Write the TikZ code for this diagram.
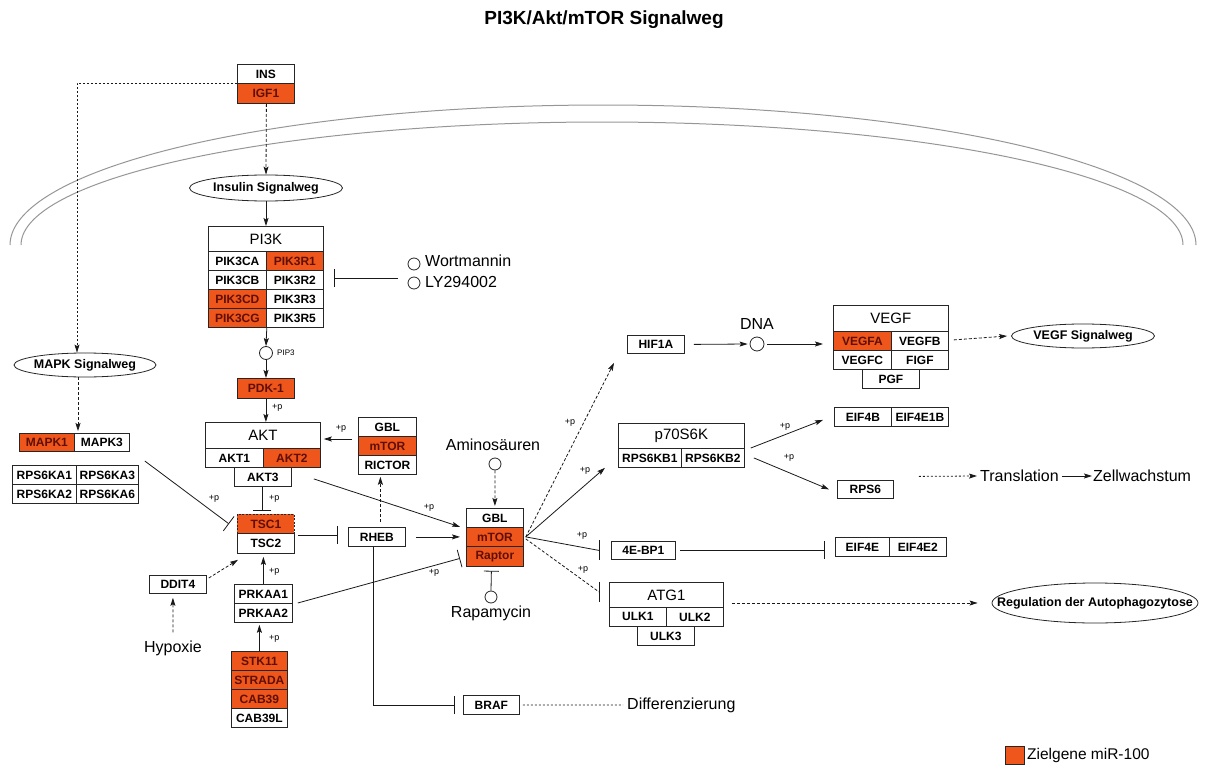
\documentclass[tikz,border=0pt]{standalone}
\usepackage{fontspec}
\setmainfont{Liberation Sans}
\usetikzlibrary{arrows.meta,shapes.geometric,calc}
\definecolor{miror}{RGB}{238,86,28}
\definecolor{mirtx}{RGB}{95,15,5}
\definecolor{memb}{RGB}{150,150,150}
\begin{document}
\begin{tikzpicture}[x=1pt,y=-1pt,
  cell/.style={draw=black!85, line width=0.8pt, fill=white, rectangle, inner sep=0pt, anchor=north west, font=\fontsize{12}{12}\selectfont\bfseries, minimum height=19pt},
  hit/.style={fill=miror, text=mirtx},
  head/.style={cell, font=\fontsize{15}{15}\selectfont},
  pathway/.style={draw=black!85, line width=0.8pt, ellipse, fill=white, inner sep=0pt, font=\fontsize{12.5}{12.5}\selectfont\bfseries},
  lbl/.style={inner sep=0pt, font=\fontsize{16}{16}\selectfont},
  plab/.style={inner sep=0pt, font=\fontsize{9}{9}\selectfont},
  mol/.style={circle, draw=black!85, line width=0.8pt, fill=white, minimum size=13pt, inner sep=0pt},
  con/.style={draw=black!90, line width=0.8pt},
  arr/.style={con, -{Stealth[length=8pt,width=5pt,inset=1.5pt]}},
  dashln/.style={dash pattern=on 3pt off 2pt},
  darr/.style={arr, dashln},
  dotarr/.style={arr, dash pattern=on 2pt off 2pt},
  inh/.style={con, -{Bar[width=18pt]}},
  membrane/.style={draw=memb, line width=1pt}
]
\useasboundingbox (0,0) rectangle (1205,765);
% membrane
\draw[membrane] plot[domain=0:180, samples=150] ({603+593*cos(\x)},{245-140*sin(\x)});
\draw[membrane] plot[domain=0:180, samples=150] ({602+581*cos(\x)},{245-123*sin(\x)});

\node[font=\fontsize{19}{19}\selectfont\bfseries] (title) at (604,20) {PI3K/Akt/mTOR Signalweg};

% INS / IGF1
\node[cell, minimum width=57pt] (ins) at (237,64) {INS};
\node[cell, hit, minimum width=57pt, minimum height=20pt] (igf1) at (237,83) {IGF1};
\node[pathway, minimum width=153pt, minimum height=26pt] (inssig) at (266,188) {\makebox[0pt]{Insulin Signalweg}};

% PI3K
\node[head, minimum width=115pt, minimum height=25pt] (pi3k) at (208,226) {PI3K};
\node[cell, minimum width=58pt] (pik3ca) at (208,251) {PIK3CA};
\node[cell, hit, minimum width=57pt] (pik3r1) at (266,251) {PIK3R1};
\node[cell, minimum width=58pt] (pik3cb) at (208,270) {PIK3CB};
\node[cell, minimum width=57pt] (pik3r2) at (266,270) {PIK3R2};
\node[cell, hit, minimum width=58pt] (pik3cd) at (208,289) {PIK3CD};
\node[cell, minimum width=57pt] (pik3r3) at (266,289) {PIK3R3};
\node[cell, hit, minimum width=58pt] (pik3cg) at (208,308) {PIK3CG};
\node[cell, minimum width=57pt] (pik3r5) at (266,308) {PIK3R5};

\node[mol, minimum size=12pt] (wort) at (414,264) {};
\node[lbl, anchor=west] (worttx) at (425,261) {Wortmannin};
\node[mol, minimum size=12pt] (ly) at (414,283) {};
\node[lbl, anchor=west] (lytx) at (425,282) {LY294002};

\node[mol] (pip3) at (266,353) {};
\node[plab, anchor=west, font=\fontsize{8}{8}\selectfont] (pip3tx) at (277,353) {PIP3};
\node[cell, hit, minimum width=57pt, minimum height=20pt] (pdk1) at (237,378) {PDK-1};

% AKT
\node[head, minimum width=115pt, minimum height=26pt] (akth) at (205,422) {AKT};
\node[cell, minimum width=58pt] (akt1) at (205,448) {AKT1};
\node[cell, hit, minimum width=57pt] (akt2) at (263,448) {AKT2};
\node[cell, minimum width=57pt] (akt3) at (234,467) {AKT3};

% mTORC2
\node[cell, minimum width=58pt] (gbl2) at (358,417) {GBL};
\node[cell, hit, minimum width=58pt] (mtor2) at (358,436) {mTOR};
\node[cell, minimum width=58pt] (rictor) at (358,455) {RICTOR};

\node[cell, minimum width=57pt] (rheb) at (348,527) {RHEB};

% TSC
\node[cell, hit, minimum width=57pt, dash pattern=on 2pt off 1.5pt] (tsc1) at (237,514) {TSC1};
\node[cell, minimum width=57pt, minimum height=20pt] (tsc2) at (237,533) {TSC2};

% mTORC1
\node[cell, minimum width=57pt] (gbl1) at (466,508) {GBL};
\node[cell, hit, minimum width=57pt] (mtor1) at (466,527) {mTOR};
\node[cell, hit, minimum width=57pt, minimum height=20pt] (raptor) at (466,546) {Raptor};

\node[lbl] (amino) at (493,445) {Aminosäuren};
\node[mol, minimum size=12pt] (aminoc) at (495,464) {};
\node[mol, minimum size=12pt] (rapac) at (491,597) {};
\node[lbl] (rapa) at (491,613) {Rapamycin};

% PRKAA, STK11
\node[cell, minimum width=58pt] (prkaa1) at (234,584) {PRKAA1};
\node[cell, minimum width=58pt] (prkaa2) at (234,603) {PRKAA2};
\node[cell, hit, minimum width=56pt] (stk11) at (231,651) {STK11};
\node[cell, hit, minimum width=56pt] (strada) at (231,670) {STRADA};
\node[cell, hit, minimum width=56pt] (cab39) at (231,689) {CAB39};
\node[cell, minimum width=56pt] (cab39l) at (231,708) {CAB39L};

\node[cell, minimum width=57pt, minimum height=18pt] (ddit4) at (149,575) {DDIT4};
\node[lbl] (hypox) at (173,648) {Hypoxie};

% MAPK
\node[pathway, minimum width=142pt, minimum height=24pt] (mapksig) at (85,365) {\makebox[0pt]{MAPK Signalweg}};
\node[cell, hit, minimum width=55pt, minimum height=18pt] (mapk1) at (19,433) {MAPK1};
\node[cell, minimum width=55pt, minimum height=18pt] (mapk3) at (74,433) {MAPK3};
\node[cell, minimum width=64pt] (rps6ka1) at (12,465) {RPS6KA1};
\node[cell, minimum width=62pt] (rps6ka3) at (76,465) {RPS6KA3};
\node[cell, minimum width=64pt] (rps6ka2) at (12,484) {RPS6KA2};
\node[cell, minimum width=62pt] (rps6ka6) at (76,484) {RPS6KA6};

% BRAF
\node[cell, minimum width=56pt] (braf) at (463,695) {BRAF};
\node[lbl, anchor=west] (diff) at (627,705) {Differenzierung};

% right side
\node[cell, minimum width=57pt, minimum height=18pt] (hif1a) at (627,335) {HIF1A};
\node[mol, minimum size=14pt] (dna) at (757,344) {};
\node[lbl] (dnatx) at (757,324) {DNA};
\node[head, minimum width=115pt, minimum height=26pt] (vegf) at (833,305) {VEGF};
\node[cell, hit, minimum width=58pt] (vegfa) at (833,331) {VEGFA};
\node[cell, minimum width=57pt] (vegfb) at (891,331) {VEGFB};
\node[cell, minimum width=58pt] (vegfc) at (833,350) {VEGFC};
\node[cell, minimum width=57pt] (figf) at (891,350) {FIGF};
\node[cell, minimum width=57pt] (pgf) at (862,369) {PGF};
\node[pathway, minimum width=143pt, minimum height=24pt] (vegfsig) at (1083,336) {\makebox[0pt]{VEGF Signalweg}};

\node[head, minimum width=126pt, minimum height=25pt] (p70) at (618,423) {p70S6K};
\node[cell, minimum width=63pt] (rps6kb1) at (618,448) {RPS6KB1};
\node[cell, minimum width=63pt] (rps6kb2) at (681,448) {RPS6KB2};
\node[cell, minimum width=57pt] (eif4b) at (834,407) {EIF4B};
\node[cell, minimum width=57pt] (eif4e1b) at (891,407) {EIF4E1B};
\node[cell, minimum width=56pt, minimum height=18pt] (rps6) at (837,480) {RPS6};
\node[lbl, anchor=west] (transl) at (980,476) {Translation};
\node[lbl, anchor=west] (zell) at (1093,476) {Zellwachstum};

\node[cell, minimum width=64pt, minimum height=18pt] (ebp1) at (611,541) {4E-BP1};
\node[cell, minimum width=54pt] (eif4e) at (835,537) {EIF4E};
\node[cell, minimum width=57pt] (eif4e2) at (889,537) {EIF4E2};

\node[head, minimum width=114pt, minimum height=25pt] (atg1) at (609,582) {ATG1};
\node[cell, minimum width=57pt] (ulk1) at (609,607) {ULK1};
\node[cell, minimum width=57pt] (ulk2) at (666,607) {ULK2};
\node[cell, minimum width=57pt] (ulk3) at (637,626) {ULK3};
\node[pathway, minimum width=206pt, minimum height=40pt] (regul) at (1095,603) {\makebox[0pt]{Regulation der Autophagozytose}};

% legend
\node[cell, hit, minimum width=19pt, minimum height=18pt] (legsq) at (1005,746) {};
\node[lbl, anchor=west, font=\fontsize{15.5}{15.5}\selectfont] (legtx) at (1027,755) {Zielgene miR-100};

% ---------- connectors ----------
\draw[dotarr] (igf1.north west) -| ($(mapksig.north)+(-8,0)$);
\draw[darr] ($(igf1.south)+(0.5,0)$) -- (inssig.north);
\draw[arr] (inssig.south) -- (inssig.south |- pi3k.north);
\draw[inh] ($(pik3r2.east)+(74,-2)$) -- ($(pik3r2.east)+(10,-2)$);
\draw[arr] (pik3cg.south east) -- (pip3.north);
\draw[arr] (pip3.south) -- (pip3.south |- pdk1.north);
\draw[arr] (pdk1.south) -- (pdk1.south |- akth.north);
\node[plab, anchor=west] (p1) at (272,408) {+p};

\draw[arr] ($(mtor2.north west)+(-6,3)$) -- ($(akth.east |- mtor2.north west)+(3,3)$);
\node[plab] (p2) at (341,429) {+p};
\draw[darr] ($(rheb.north)+(3.5,-5)$) -- ($(rictor.south)+(-7,2)$);

\draw[inh] ($(akt3.south)+(-0.5,0)$) -- ($(akt3.south |- tsc1.north)+(-0.5,-3)$);
\node[plab, anchor=west] (p3) at (269,499) {+p};
\draw[inh] ($(rps6ka3.north east)+(6,-4)$) -- ($(tsc1.west)+(-8,0)$);
\node[plab] (p4) at (214,499) {+p};
\draw[inh] ($(tsc2.north east)+(3,2)$) -- ($(rheb.west |- tsc2.north east)+(-10,2)$);
\draw[arr] ($(rheb.east)+(10,0)$) -- ($(mtor1.west)+(-6,0)$);
\draw[inh] ($(rheb.south)+(-3.5,0)$) |- ($(braf.west)+(-8,0)$);
\draw[con, dash pattern=on 2pt off 2pt] ($(braf.east)+(3,0)$) -- ($(diff.west)+(-4,0)$);

\draw[arr] ($(akt3.east)+(22,2)$) -- ($(gbl1.south west)+(-6,-1)$);
\node[plab] (p5) at (429,508) {+p};
\draw[inh] ($(prkaa2.north east)+(5,0)$) -- ($(raptor.west)+(-6,2)$);
\node[plab] (p6) at (434,573) {+p};
\draw[arr] (prkaa1.north) -- ($(prkaa1.north |- tsc2.south)+(0,3)$);
\node[plab, anchor=west] (p7) at (269,572) {+p};
\draw[arr] (stk11.north) -- ($(stk11.north |- prkaa2.south)+(0,2)$);
\node[plab, anchor=west] (p8) at (269,639) {+p};
\draw[darr] ($(ddit4.north east)+(2,3)$) -- ($(tsc2.south west)+(1,6)$);
\draw[darr] ($(hypox.north)+(0,-8)$) -- ($(ddit4.south)+(-5,4)$);

\draw[darr] ($(mapksig.south)+(-7,0)$) -- ($(mapksig.south |- mapk1.north)+(-7,-2)$);

\draw[darr] (aminoc.south) -- ($(gbl1.north)+(0,-2)$);
\draw[inh, -{Bar[width=15pt]}] (rapac.north) -- ($(raptor.south)+(-3.5,4)$);

\draw[darr] ($(mtor1.east)+(2,0)$) -- ($(hif1a.south west)+(-13,9)$);
\node[plab] (p9) at (570,423) {+p};
\draw[arr] ($(hif1a.east)+(9,0)$) -- ($(dna.west)+(-2,0)$);
\draw[arr] ($(dna.east)+(3,0)$) -- ($(vegfa.west |- dna.east)+(-10,0)$);
\draw[darr] ($(vegfb.east)+(5,-1)$) -- ($(vegfsig.west)+(-4,0)$);

\draw[arr] ($(mtor1.east)+(2,0)$) -- ($(p70.south west)+(-13,19)$);
\node[plab] (p10) at (585,471) {+p};
\draw[arr] ($(rps6kb2.north east)+(6,0)$) -- ($(eif4b.west)+(-11,3)$);
\node[plab] (p11) at (785,427) {+p};
\draw[arr] ($(rps6kb2.east)+(9,0)$) -- ($(rps6.west)+(-8,0)$);
\node[plab] (p12) at (789,458) {+p};
\draw[dotarr] ($(rps6.east)+(25,-13)$) -- ($(transl.west)+(-3,0)$);
\draw[arr] ($(transl.east)+(3,0)$) -- ($(zell.west)+(-1,0)$);

\coordinate (ebpbar) at ($(ebp1.west)+(-12,0)$);
\draw[con] ($(mtor1.east)+(2,0)$) -- (ebpbar);
\draw[con] ($(ebpbar)+(0,-10)$) -- ($(ebpbar)+(0,10)$);
\node[plab] (p13) at (582,536) {+p};
\draw[inh] ($(ebp1.east)+(4,0)$) -- ($(eif4e.west |- ebp1.east)+(-10,0)$);

\coordinate (atgbar) at ($(atg1.west)+(-10,-3)$);
\draw[con, dashln] ($(mtor1.east)+(2,2)$) -- (atgbar);
\draw[con] ($(atgbar)+(0,-10)$) -- ($(atgbar)+(0,10)$);
\node[plab] (p14) at (583,570) {+p};
\draw[darr] ($(ulk2.north east)+(8,-4)$) -- ($(regul.west)+(-14,0)$);
\end{tikzpicture}
\end{document}
